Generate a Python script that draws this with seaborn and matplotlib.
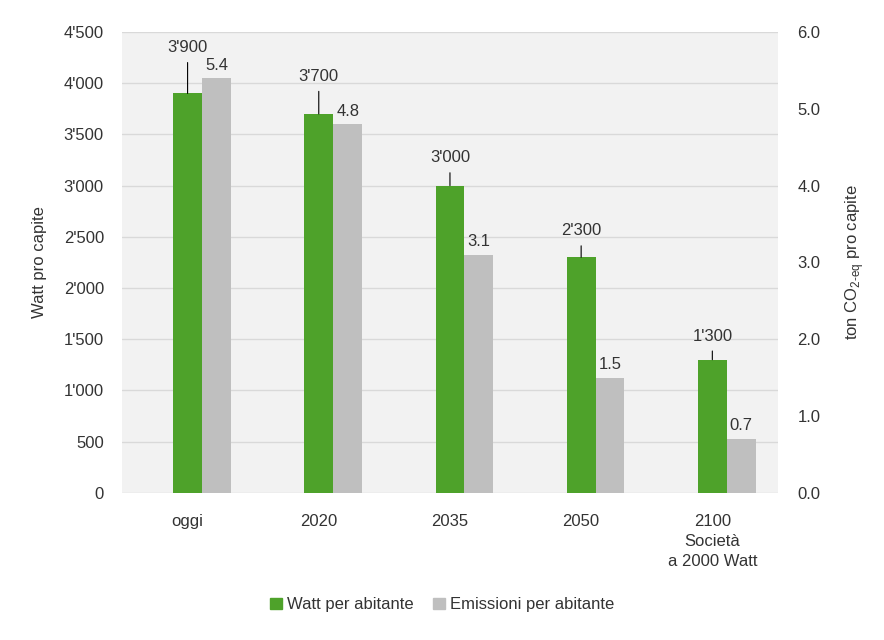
import numpy as np
import pandas as pd
import matplotlib
matplotlib.use("Agg")
import matplotlib.pyplot as plt
import seaborn as sns
from matplotlib.patches import Patch
from matplotlib.ticker import FuncFormatter, MultipleLocator

# data
categorie = ["oggi", "2020", "2035", "2050", "2100\nSocietà\na 2000 Watt"]
watt = [3900, 3700, 3000, 2300, 1300]
emissioni = [5.4, 4.8, 3.1, 1.5, 0.7]
watt_labels = ["3'900", "3'700", "3'000", "2'300", "1'300"]
emi_labels = ["5.4", "4.8", "3.1", "1.5", "0.7"]

GREEN = "#4ea22a"
GREY = "#bfbfbf"
TXT = "#333333"

sns.set_theme(style="white")
plt.rcParams["font.family"] = ["Liberation Sans", "DejaVu Sans"]
plt.rcParams["mathtext.fontset"] = "custom"
plt.rcParams["mathtext.rm"] = "Liberation Sans"

# emissions drawn on the left scale (6.0 t == 4500 W) so both series share the dodge
scala = 4500 / 6.0
df = pd.DataFrame({
    "cat": categorie * 2,
    "valore": watt + [e * scala for e in emissioni],
    "serie": ["Watt per abitante"] * 5 + ["Emissioni per abitante"] * 5,
})

fig, ax1 = plt.subplots(figsize=(8.84, 6.4), dpi=100)
fig.subplots_adjust(left=0.138, right=0.880, top=0.95, bottom=0.23)

sns.barplot(data=df, x="cat", y="valore", hue="serie", ax=ax1,
            palette=[GREEN, GREY], width=0.44, gap=0, saturation=1,
            legend=False, errorbar=None, linewidth=0)

ax1.set_facecolor("#f2f2f2")
ax1.set_ylim(0, 4500)
# green bar sits on the category tick, grey bar to its right
pos = np.arange(len(categorie)) - 0.11
ax1.set_xlim(pos[0] - 0.5, pos[-1] + 0.5)
ax1.set_xticks(pos)
ax1.set_xticklabels(categorie, linespacing=1.45)
ax1.yaxis.set_major_locator(MultipleLocator(500))
ax1.yaxis.set_major_formatter(FuncFormatter(lambda v, p: f"{int(v):,}".replace(",", "'")))
ax1.grid(axis="y", color="#d9d9d9", lw=1)
ax1.set_axisbelow(True)
for s in ax1.spines.values():
    s.set_visible(False)
ax1.tick_params(axis="y", length=0, labelsize=12, colors=TXT, pad=13)
ax1.tick_params(axis="x", length=0, labelsize=12, colors=TXT, pad=15)
ax1.set_xlabel("")
ax1.set_ylabel("Watt pro capite", fontsize=12, color=TXT, labelpad=12)

ax2 = ax1.twinx()
ax2.set_ylim(0, 6)
ax2.yaxis.set_major_locator(MultipleLocator(1))
ax2.yaxis.set_major_formatter(FuncFormatter(lambda v, p: f"{v:.1f}"))
for s in ax2.spines.values():
    s.set_visible(False)
ax2.tick_params(axis="y", length=0, labelsize=12, colors=TXT, pad=14)
ax2.set_ylabel(r"ton CO$_{\rm 2\text{-}eq}$ pro capite", fontsize=12, color=TXT, labelpad=16)

# labels
bars_g = ax1.patches[:5]
bars_e = ax1.patches[5:10]
offs = [33, 27, 20, 19, 17]
for b, lab, off in zip(bars_g, watt_labels, offs):
    x = b.get_x() + b.get_width() / 2
    ax1.annotate(lab, xy=(x, b.get_height()), xytext=(0, off), textcoords="offset points",
                 ha="center", va="center", fontsize=12, color=TXT,
                 arrowprops=dict(arrowstyle="-", color="black", lw=0.8, shrinkA=3, shrinkB=0))
for b, lab in zip(bars_e, emi_labels):
    x = b.get_x() + b.get_width() / 2
    ax1.annotate(lab, xy=(x, b.get_height()), xytext=(0, 4), textcoords="offset points",
                 ha="center", va="bottom", fontsize=12, color=TXT)

handles = [Patch(color=GREEN, label="Watt per abitante"),
           Patch(color=GREY, label="Emissioni per abitante")]
fig.legend(handles=handles, loc="center", bbox_to_anchor=(0.5, 0.055), ncol=2,
           frameon=False, fontsize=12, handlelength=0.7, handleheight=0.7,
           handletextpad=0.3, columnspacing=1.2, labelcolor=TXT)

fig.savefig("out.png", dpi=100)
